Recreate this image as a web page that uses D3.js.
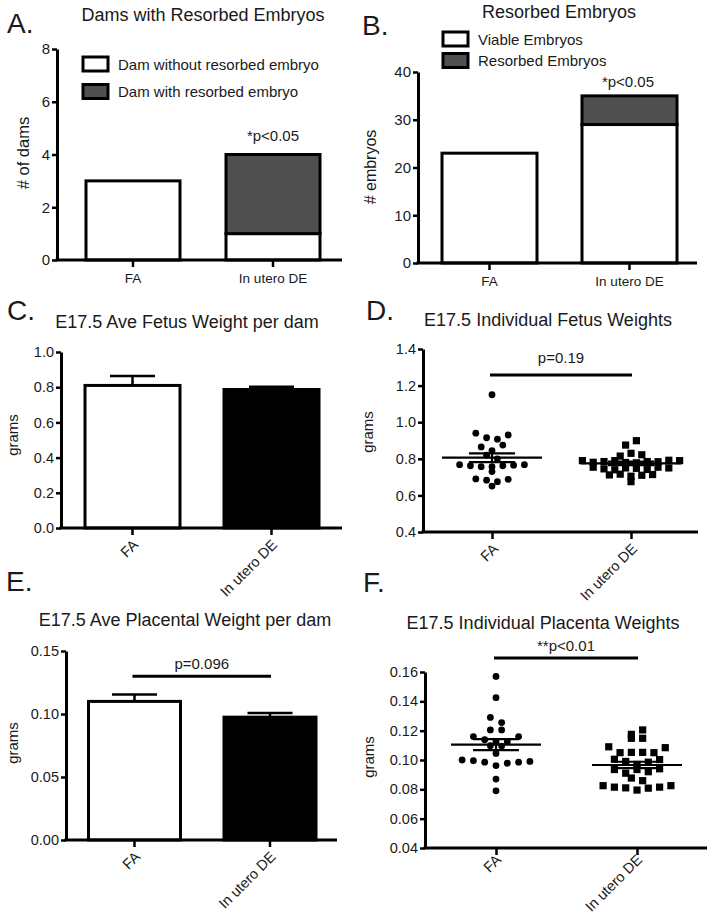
<!DOCTYPE html>
<html><head><meta charset="utf-8">
<script src="https://cdn.jsdelivr.net/npm/d3@7"></script>
<style>
body{margin:0;background:#fff}
svg{display:block}
text{font-family:"Liberation Sans",Arial,Helvetica,sans-serif;fill:#1a1a1a}
</style>
</head><body>
<svg id="c" width="714" height="917"></svg>
<script>
// ---------------- DATA ----------------
const groups = ["FA", "In utero DE"];

// A. Dams with resorbed embryos
const damsWithout = [3, 1];
const damsWith = [0, 3];
const legendA = ["Dam without resorbed embryo", "Dam with resorbed embryo"];
const ticksA = [0, 2, 4, 6, 8];

// B. Resorbed embryos
const viableEmbryos = [23, 29];
const resorbedEmbryos = [0, 6];
const legendB = ["Viable Embryos", "Resorbed Embryos"];
const ticksB = [0, 10, 20, 30, 40];

// C. Ave fetus weight per dam (mean, SEM)
const fetusAveMean = [0.81, 0.787];
const fetusAveSem = [0.053, 0.015];
const ticksC = [0, 0.2, 0.4, 0.6, 0.8, 1.0];

// D. Individual fetus weights
const fetusFA = [1.15, 0.94, 0.915, 0.907, 0.93, 0.865, 0.845, 0.875, 0.82, 0.80,
  0.768, 0.762, 0.757, 0.757, 0.762, 0.765, 0.768, 0.73, 0.69, 0.683, 0.675, 0.688, 0.651];
const fetusDE = [0.875, 0.899, 0.815, 0.83, 0.822,
  0.79, 0.781, 0.785, 0.79, 0.78, 0.778, 0.785, 0.784, 0.792, 0.79,
  0.754, 0.745, 0.74, 0.75, 0.748, 0.742, 0.754, 0.75,
  0.712, 0.716, 0.705, 0.71, 0.714, 0.675];
const fetusMean = [0.806, 0.775];
const fetusSem = [0.024, 0.01];
const ticksD = [0.4, 0.6, 0.8, 1.0, 1.2, 1.4];
const sigD = 1.258;

// E. Ave placental weight per dam
const placAveMean = [0.110, 0.0975];
const placAveSem = [0.0055, 0.0032];
const ticksE = [0, 0.05, 0.10, 0.15];
const sigE = 0.130;

// F. Individual placenta weights
const placFA = [0.157, 0.1425, 0.129, 0.1255, 0.1205, 0.1205, 0.116, 0.1138, 0.1125, 0.1125, 0.116,
  0.1098, 0.1095, 0.1045, 0.1000, 0.0995, 0.0985, 0.0962, 0.0978, 0.0985, 0.099, 0.087, 0.079];
const placDE = [0.1175, 0.1205, 0.1148, 0.1148,
  0.109, 0.105, 0.1052, 0.1052, 0.105, 0.1084,
  0.1005, 0.099, 0.097, 0.0985, 0.1003,
  0.0935, 0.091, 0.0935, 0.092, 0.094,
  0.0877, 0.0859,
  0.0825, 0.0815, 0.081, 0.0795, 0.0808, 0.0815, 0.0825];
const placMean = [0.1105, 0.0966];
const placSem = [0.0038, 0.0022];
const ticksF = [0.04, 0.06, 0.08, 0.10, 0.12, 0.14, 0.16];
const sigF = 0.1695;

// ---------------- LAYOUT ----------------
const LAY = {
  A: {ax: 57, top: 49, bot: 260, end: 342, c: [133, 273], bw: 94, dom: [0, 8]},
  B: {ax: 418, top: 72, bot: 263, end: 697, c: [489.5, 629.5], bw: 95, dom: [0, 40]},
  C: {ax: 61, top: 352, bot: 528, end: 342, c: [132.5, 271.5], bw: 95, dom: [0, 1], lab: [3, 14]},
  D: {ax: 423, top: 349, bot: 532, end: 698, c: [492, 631], bw: 0, dom: [0.4, 1.4], lab: [3, 14]},
  E: {ax: 66, top: 651, bot: 840, end: 337, c: [134.5, 270], bw: 92, dom: [0, 0.15], lab: [3, 14]},
  F: {ax: 425, top: 672, bot: 848, end: 707, c: [496, 637], bw: 0, dom: [0.04, 0.16], lab: [2, 9]}
};
const GREY = "#505050";
const svg = d3.select("#c");

function scales(p) {
  const s = p.c[1] - p.c[0];
  const pi = 1 - p.bw / s;
  const x = d3.scaleBand().domain(groups).range([p.c[0] - s / 2, p.c[1] + s / 2])
    .paddingInner(pi).paddingOuter(pi / 2);
  const y = d3.scaleLinear().domain(p.dom).range([p.bot, p.top]);
  return {x, y, cx: g => x(g) + x.bandwidth() / 2};
}

function axes(p, sc, ticks, fmt, tickFs, rotated) {
  const g = svg.append("g");
  const ya = g.append("g").attr("transform", `translate(${p.ax},0)`)
    .call(d3.axisLeft(sc.y).tickValues(ticks).tickFormat(fmt).tickSize(5).tickSizeOuter(0).tickPadding(2));
  ya.select(".domain").attr("stroke", "#000").attr("stroke-width", 3);
  ya.selectAll(".tick line").attr("stroke", "#000").attr("stroke-width", 2.5);
  ya.selectAll("text").attr("font-size", tickFs);
  g.append("line").attr("x1", p.ax - 1.5).attr("x2", p.end).attr("y1", p.bot).attr("y2", p.bot)
    .attr("stroke", "#000").attr("stroke-width", 3);
  const xa = g.append("g").attr("transform", `translate(0,${p.bot})`)
    .call(d3.axisBottom(sc.x).tickSize(7).tickSizeOuter(0).tickPadding(6));
  xa.select(".domain").remove();
  xa.selectAll(".tick line").attr("stroke", "#000").attr("stroke-width", 2.5);
  if (rotated) {
    xa.selectAll("text").attr("x", 0).attr("y", 0).attr("dy", "0.35em")
      .attr("text-anchor", "end").attr("font-size", 14.5)
      .attr("transform", `translate(${p.lab[0]},${p.lab[1]}) rotate(-45)`);
  } else {
    xa.selectAll("text").attr("font-size", 13.5);
  }
}

function txt(t, x, y, fs, opts = {}) {
  const e = svg.append("text").attr("x", x).attr("y", y).attr("font-size", fs)
    .attr("text-anchor", opts.anchor || "middle")
    .attr("dominant-baseline", opts.baseline || "central").text(t);
  if (opts.rotate) e.attr("transform", `rotate(-90,${x},${y})`);
  return e;
}

function letter(t, x, y) { txt(t, x, y, 28, {anchor: "start", baseline: "alphabetic"}); }

function stacked(p, sc, lower, upper) {
  const table = groups.map((g, i) => ({group: g, lower: lower[i], upper: upper[i]}));
  const st = d3.stack().keys(["lower", "upper"])(table);
  st.forEach((layer, li) => layer.forEach(d => {
    if (d[1] - d[0] <= 0) return;
    svg.append("rect").attr("x", sc.x(d.data.group)).attr("width", sc.x.bandwidth())
      .attr("y", sc.y(d[1])).attr("height", sc.y(d[0]) - sc.y(d[1]))
      .attr("fill", li ? GREY : "#fff").attr("stroke", "#000").attr("stroke-width", 3);
  }));
}

function legend(items, x, y0, dy) {
  items.forEach((t, i) => {
    svg.append("rect").attr("x", x).attr("y", y0 + i * dy).attr("width", 25).attr("height", 14)
      .attr("fill", i ? GREY : "#fff").attr("stroke", "#000").attr("stroke-width", 3);
    txt(t, x + 35, y0 + i * dy + 7, 15, {anchor: "start"});
  });
}

function meanBars(p, sc, means, sems) {
  groups.forEach((g, i) => {
    const cx = sc.cx(g);
    svg.append("line").attr("x1", cx).attr("x2", cx).attr("y1", sc.y(means[i])).attr("y2", sc.y(means[i] + sems[i]))
      .attr("stroke", "#000").attr("stroke-width", 2.5);
    svg.append("line").attr("x1", cx - 22.5).attr("x2", cx + 22.5)
      .attr("y1", sc.y(means[i] + sems[i])).attr("y2", sc.y(means[i] + sems[i]))
      .attr("stroke", "#000").attr("stroke-width", 2.5);
    svg.append("rect").attr("x", sc.x(g)).attr("width", sc.x.bandwidth())
      .attr("y", sc.y(means[i])).attr("height", sc.y(p.dom[0]) - sc.y(means[i]))
      .attr("fill", i ? "#000" : "#fff").attr("stroke", "#000").attr("stroke-width", 3);
  });
}

function swarm(values, y, cx, step, rowH) {
  const pts = values.map((v, i) => ({v, i, py: y(v)}));
  const sorted = pts.slice().sort((a, b) => a.py - b.py);
  const rows = [];
  let cur = null;
  sorted.forEach(pt => {
    if (!cur || pt.py - cur.start > rowH) { cur = {start: pt.py, items: []}; rows.push(cur); }
    cur.items.push(pt);
  });
  rows.forEach(r => {
    r.items.sort((a, b) => a.i - b.i);
    const n = r.items.length;
    r.items.forEach((pt, k) => { pt.px = cx + (k - (n - 1) / 2) * step; });
  });
  return pts;
}

function scatter(p, sc, seriesList, means, sems, step, meanHalf) {
  seriesList.forEach((vals, gi) => {
    const cx = sc.cx(groups[gi]);
    const pts = swarm(vals, sc.y, cx, step, 6.5);
    if (gi === 0) {
      svg.append("g").selectAll("circle").data(pts).join("circle")
        .attr("cx", d => d.px).attr("cy", d => d.py).attr("r", 3.4).attr("fill", "#000");
    } else {
      svg.append("g").selectAll("rect").data(pts).join("rect")
        .attr("x", d => d.px - 3.6).attr("y", d => d.py - 3.6).attr("width", 7.2).attr("height", 7.2).attr("fill", "#000");
    }
    const m = sc.y(means[gi]), hi = sc.y(means[gi] + sems[gi]), lo = sc.y(means[gi] - sems[gi]);
    const ln = (x1, x2, y1, y2) => svg.append("line").attr("x1", x1).attr("x2", x2).attr("y1", y1).attr("y2", y2)
      .attr("stroke", "#000").attr("stroke-width", 2.2);
    ln(cx - meanHalf, cx + meanHalf, m, m);
    ln(cx - 23, cx + 23, hi, hi);
    ln(cx - 23, cx + 23, lo, lo);
    ln(cx, cx, hi, lo);
  });
}

function sigBar(sc, v, label, dyText) {
  const x1 = sc.cx(groups[0]) - 2, x2 = sc.cx(groups[1]) + 1;
  svg.append("line").attr("x1", x1).attr("x2", x2).attr("y1", sc.y(v)).attr("y2", sc.y(v))
    .attr("stroke", "#000").attr("stroke-width", 3);
  txt(label, (x1 + x2) / 2, sc.y(v) - dyText, 15);
}

const f1 = d3.format(".1f"), f2 = d3.format(".2f"), f0 = d3.format("d");

// ---------------- PANEL A ----------------
{
  const p = LAY.A, sc = scales(p);
  letter("A.", 7, 33);
  txt("Dams with Resorbed Embryos", 203, 15, 18);
  stacked(p, sc, damsWithout, damsWith);
  axes(p, sc, ticksA, f0, 15, false);
  legend(legendA, 83, 57, 27.5);
  txt("*p<0.05", sc.cx(groups[1]), sc.y(damsWithout[1] + damsWith[1]) - 19.5, 15);
  txt("# of dams", 23, 153, 16.5, {rotate: true});
}
// ---------------- PANEL B ----------------
{
  const p = LAY.B, sc = scales(p);
  letter("B.", 362, 35);
  txt("Resorbed Embryos", 559, 12, 18);
  stacked(p, sc, viableEmbryos, resorbedEmbryos);
  axes(p, sc, ticksB, f0, 15, false);
  legend(legendB, 443, 32, 21.5);
  txt("*p<0.05", 628, sc.y(viableEmbryos[1] + resorbedEmbryos[1]) - 14, 15);
  txt("# embryos", 370, 167, 16, {rotate: true});
}
// ---------------- PANEL C ----------------
{
  const p = LAY.C, sc = scales(p);
  letter("C.", 7, 320);
  txt("E17.5 Ave Fetus Weight per dam", 187, 322, 18);
  meanBars(p, sc, fetusAveMean, fetusAveSem);
  axes(p, sc, ticksC, f1, 14.5, true);
  txt("grams", 12, 435, 15, {rotate: true});
}
// ---------------- PANEL D ----------------
{
  const p = LAY.D, sc = scales(p);
  letter("D.", 366, 320);
  txt("E17.5 Individual Fetus Weights", 548, 320, 18);
  axes(p, sc, ticksD, f1, 14.5, true);
  scatter(p, sc, [fetusFA, fetusDE], fetusMean, fetusSem, 10.8, 50);
  sigBar(sc, sigD, "p=0.19", 17);
  txt("grams", 367, 432, 15, {rotate: true});
}
// ---------------- PANEL E ----------------
{
  const p = LAY.E, sc = scales(p);
  letter("E.", 6, 591);
  txt("E17.5 Ave Placental Weight per dam", 185, 620, 18);
  meanBars(p, sc, placAveMean, placAveSem);
  axes(p, sc, ticksE, f2, 14.5, true);
  sigBar(sc, sigE, "p=0.096", 13);
  txt("grams", 12, 743, 15, {rotate: true});
}
// ---------------- PANEL F ----------------
{
  const p = LAY.F, sc = scales(p);
  letter("F.", 363, 592);
  txt("E17.5 Individual Placenta Weights", 543, 623, 18);
  axes(p, sc, ticksF, f2, 14.5, true);
  scatter(p, sc, [placFA, placDE], placMean, placSem, 11.3, 45);
  sigBar(sc, sigF, "**p<0.01", 13);
  txt("grams", 368, 757, 15, {rotate: true});
}
</script>
</body></html>
